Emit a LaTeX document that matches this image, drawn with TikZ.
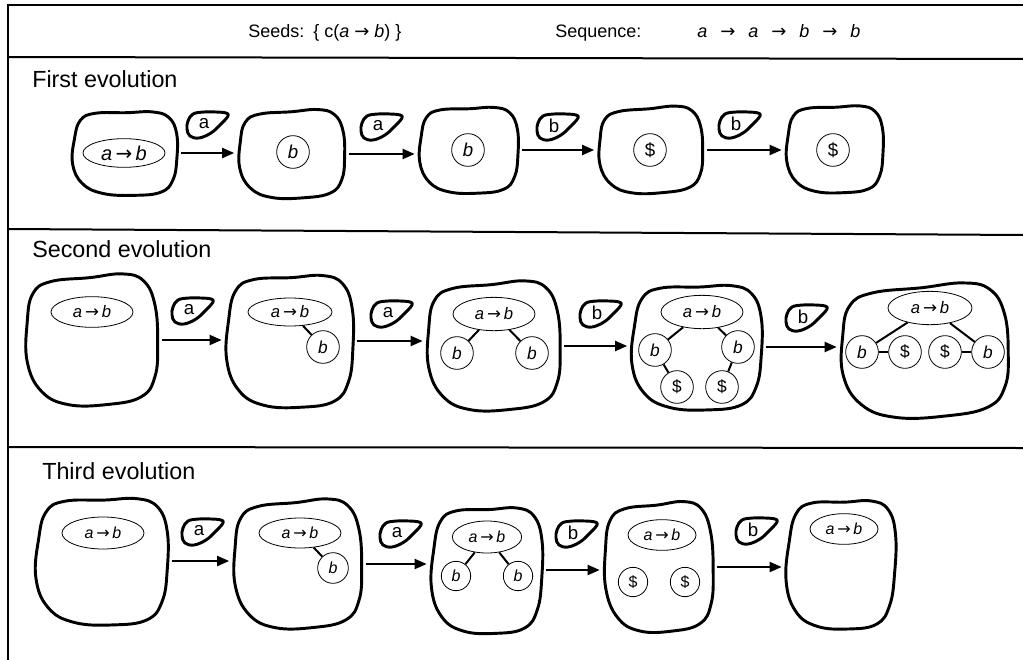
\documentclass[tikz,border=0pt]{standalone}
\usepackage{fontspec}
\setmainfont{Liberation Sans}
\newfontfamily\arrowfont{DejaVu Sans}
\usetikzlibrary{arrows.meta,shapes.geometric}

% arrow glyph and the rule a->b
\newcommand\rarr{{\arrowfont\upshape →}}
\newcommand\ab{\textit{a}\,\rarr\,\textit{b}}
\newcommand\gapp{\hspace{0.72em}}

% a cell: invisible box node plus a hand-drawn rounded outline
% #1 name, #2 #3 centre, #4 #5 width and height, #6 tilt
\newcommand\cellblob[6]{%
  \node[cellarea, minimum width={#4*0.75pt}, minimum height={#5*0.75pt}] (#1) at (#2,#3) {};
  \draw[blobline, shift={(#2,#3)}, rotate=#6, xscale=#4, yscale=#5]
    plot[smooth cycle, tension=0.7] coordinates {
      (-0.3,-0.46) (0.0,-0.48) (0.25,-0.5) (0.41,-0.44) (0.49,-0.25)
      (0.5,0.05) (0.47,0.3) (0.36,0.45) (0.1,0.5) (-0.2,0.49)
      (-0.4,0.38) (-0.5,0.15) (-0.49,-0.15) (-0.44,-0.37)};
}

% an input token: letter in a small looped outline
\newcommand\tokblob[4]{%
  \node[toktext] (#1) at (#2,#3) {#4};
  \draw[tokline, shift={(#2,#3)}]
    plot[smooth cycle, tension=0.65] coordinates {
      (-16,-3) (-11,-10) (0,-12) (12,-12) (22,-11) (24,-8)
      (17,0) (7,9) (-5,14) (-14,12) (-17,5)};
}

\begin{document}
\begin{tikzpicture}[
  x=0.75pt, y=-0.75pt,
  frame/.style={line width=1.5pt},
  blobline/.style={line width=2.2pt, line join=round},
  cellarea/.style={rectangle, inner sep=0pt, outer sep=0pt},
  tokline/.style={line width=2.2pt, line join=round},
  toktext/.style={inner sep=0pt, font=\fontsize{14}{16}\selectfont},
  rule/.style={ellipse, draw, line width=0.6pt, inner sep=0pt,
    minimum width=61.5pt, minimum height=23pt, font=\fontsize{12.5}{14}\selectfont},
  item/.style={circle, draw, line width=0.6pt, inner sep=0pt,
    minimum size=24.5pt, font=\fontsize{13}{15}\selectfont},
  small/.style={font=\fontsize{12}{14}\selectfont},
  tie/.style={line width=1.5pt},
  flow/.style={line width=1.5pt, -{Triangle[length=9pt,width=7.5pt]},
    shorten <=3pt, shorten >=4pt},
  hdr/.style={anchor=base west, inner sep=0pt, font=\fontsize{13.5}{16}\selectfont},
  title/.style={anchor=base west, inner sep=0pt, font=\fontsize{17.5}{20}\selectfont},
]
\useasboundingbox (0,0) rectangle (1023,660);

% frame and section rules
\draw[frame] (1023,5) -- (8,5) -- (8,660);
\draw[frame] (8,57) -- (1023,59);
\draw[frame] (8,229) -- (1023,235);
\draw[frame] (8,447) -- (1023,448);

% header
\node[hdr] (seeds) at (248,38) {Seeds:};
\node[hdr] (seedset) at (313,38) {\{ c(\textit{a} \rarr\ \textit{b}) \}};
\node[hdr] (seqlabel) at (555,38) {Sequence:};
\node[hdr] (seq) at (697,38) {\textit{a}\gapp\rarr\gapp\textit{a}\gapp\rarr\gapp\textit{b}\gapp\rarr\gapp\textit{b}};

% section titles
\node[title] (first) at (32,87) {First evolution};
\node[title] (second) at (32,257) {Second evolution};
\node[title] (third) at (42,479) {Third evolution};

% ---------- first evolution ----------
\cellblob{ra1}{125}{153}{104}{84}{-2}
\cellblob{ra2}{292}{154}{105}{88}{1}
\cellblob{ra3}{469}{150}{98}{86}{-1}
\cellblob{ra4}{651}{150}{103}{86}{2}
\cellblob{ra5}{835}{149}{96}{87}{-1}

\node[rule, minimum height=21.5pt, font=\fontsize{15}{17}\selectfont] (ra1r) at (124,153) {\ab};
\node[item, font=\fontsize{14}{16}\selectfont] (ra2b) at (293,152) {\textit{b}};
\node[item, font=\fontsize{14}{16}\selectfont] (ra3b) at (468,150) {\textit{b}};
\node[item, font=\fontsize{14}{16}\selectfont] (ra4s) at (650,150) {\$};
\node[item, font=\fontsize{14}{16}\selectfont] (ra5s) at (833,150) {\$};

\tokblob{ta1}{204}{124}{a}
\tokblob{ta2}{378}{126}{a}
\tokblob{ta3}{554}{126}{b}
\tokblob{ta4}{736}{124}{b}

\draw[flow] (ra1.east) -- (ra1.east -| ra2.west);
\draw[flow] (ra2.east) -- (ra2.east -| ra3.west);
\draw[flow] (ra3.east) -- (ra3.east -| ra4.west);
\draw[flow] (ra4.east) -- (ra4.east -| ra5.west);

% ---------- second evolution ----------
\cellblob{rb1}{92}{340}{131}{130}{2}
\cellblob{rb2}{290}{341}{126}{132}{-1}
\cellblob{rb3}{494}{346}{132}{128}{2}
\cellblob{rb4}{697}{347}{129}{125}{-2}
\cellblob{rb5}{925}{351}{166}{132}{3}

\node[rule] (rb1r) at (92,312) {\ab};

\node[rule, minimum width=63pt, minimum height=21pt] (rb2r) at (290,312) {\ab};
\node[item] (rb2b) at (323,347) {\textit{b}};
\draw[tie] (rb2r) -- (rb2b);

\node[rule, minimum height=25pt] (rb3r) at (494,314) {\ab};
\node[item] (rb3b1) at (457,353) {\textit{b}};
\node[item] (rb3b2) at (532,353) {\textit{b}};
\draw[tie] (rb3r) -- (rb3b1);
\draw[tie] (rb3r) -- (rb3b2);

\node[rule, minimum height=25pt] (rb4r) at (702,312) {\ab};
\node[item] (rb4b1) at (655,350) {\textit{b}};
\node[item] (rb4b2) at (738,347) {\textit{b}};
\node[item] (rb4s1) at (677,387) {\$};
\node[item] (rb4s2) at (722,387) {\$};
\draw[tie] (rb4r) -- (rb4b1);
\draw[tie] (rb4r) -- (rb4b2);
\draw[tie] (rb4b1) -- (rb4s1);
\draw[tie] (rb4b2) -- (rb4s2);

\node[rule, minimum width=63pt, minimum height=25pt] (rb5r) at (930,308) {\ab};
\node[item] (rb5b1) at (862,352) {\textit{b}};
\node[item] (rb5s1) at (905,352) {\$};
\node[item] (rb5s2) at (945,352) {\$};
\node[item] (rb5b2) at (988,352) {\textit{b}};
\draw[tie] (rb5r) -- (rb5b1);
\draw[tie] (rb5r) -- (rb5b2);
\draw[tie] (rb5b1) -- (rb5s1);
\draw[tie] (rb5s2) -- (rb5b2);

\tokblob{tb1}{189}{310}{a}
\tokblob{tb2}{388}{313}{a}
\tokblob{tb3}{597}{313}{b}
\tokblob{tb4}{803}{317}{b}

\draw[flow] (rb1.east) -- (rb1.east -| rb2.west);
\draw[flow] (rb2.east) -- (rb2.east -| rb3.west);
\draw[flow] (rb3.east) -- (rb3.east -| rb4.west);
\draw[flow] (rb4.east) -- (rb4.east -| rb5.west);

% ---------- third evolution ----------
\cellblob{rc1}{102}{561}{131}{127}{-2}
\cellblob{rc2}{298}{564}{127}{128}{2}
\cellblob{rc3}{487}{570}{110}{126}{-2}
\cellblob{rc4}{659}{567}{108}{129}{2}
\cellblob{rc5}{841}{564}{108}{129}{-3}

\node[rule, minimum height=24pt, small] (rc1r) at (103,533) {\ab};

\node[rule, minimum height=22.5pt, small] (rc2r) at (300,533) {\ab};
\node[item, minimum size=23pt, small] (rc2b) at (333,568) {\textit{b}};
\draw[tie] (rc2r) -- (rc2b);

\node[rule, minimum width=52pt, minimum height=24pt, small] (rc3r) at (487,537) {\ab};
\node[item, minimum size=22pt, small] (rc3b1) at (456,576) {\textit{b}};
\node[item, minimum size=22pt, small] (rc3b2) at (518,576) {\textit{b}};
\draw[tie] (rc3r) -- (rc3b1);
\draw[tie] (rc3r) -- (rc3b2);

\node[rule, minimum width=51pt, minimum height=23pt, small] (rc4r) at (662,535) {\ab};
\node[item, minimum size=22pt, small] (rc4s1) at (633,582) {\$};
\node[item, minimum size=22pt, small] (rc4s2) at (685,582) {\$};

\node[rule, minimum width=51pt, minimum height=23pt, small] (rc5r) at (844,529) {\ab};

\tokblob{tc1}{199}{531}{a}
\tokblob{tc2}{397}{533}{a}
\tokblob{tc3}{573}{533}{b}
\tokblob{tc4}{753}{530}{b}

\draw[flow] (rc1.east) -- (rc1.east -| rc2.west);
\draw[flow] (rc2.east) -- (rc2.east -| rc3.west);
\draw[flow] (rc3.east) -- (rc3.east -| rc4.west);
\draw[flow] (rc4.east) -- (rc4.east -| rc5.west);
\end{tikzpicture}
\end{document}
